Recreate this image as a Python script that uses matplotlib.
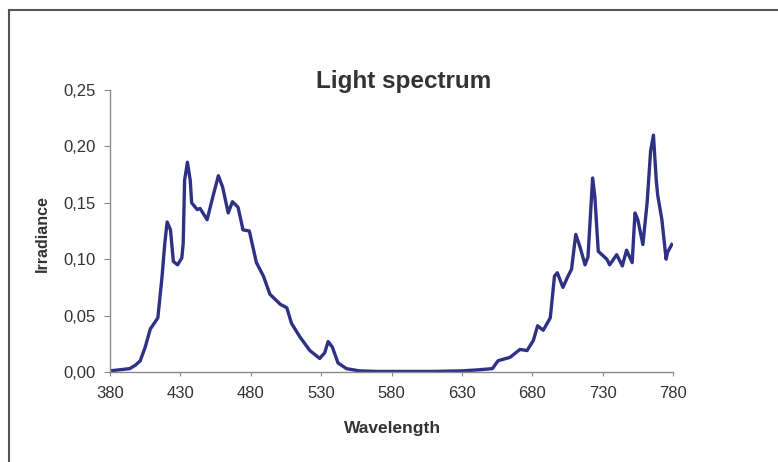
import matplotlib
matplotlib.use("Agg")
import matplotlib.pyplot as plt
from matplotlib.lines import Line2D
from matplotlib.ticker import FuncFormatter

wavelength = [380, 387, 394, 398, 401.5, 405, 408.6, 414, 417, 419, 420.6, 423, 425, 428, 431, 432, 433,
              435, 437, 438, 442, 444, 449, 453, 457, 460, 464, 467, 471, 474.5, 479, 484, 489,
              493.6, 501, 505.6, 509, 515, 522, 529, 532.5, 535, 538, 542, 548, 557, 570, 590,
              610, 630, 642.6, 651.7, 655.7, 664.2, 671.3, 676.3, 680.8, 683.8, 687.8, 692.8,
              695.8, 697.8, 701.8, 705.4, 707.9, 710.9, 713.9, 717.5, 719.6, 722.9, 724.5,
              726.9, 733, 735, 740, 744, 747, 751, 753, 755, 758.6, 761.6, 764.1, 766.1, 768.1,
              769.1, 772.1, 775.1, 776.1, 779.1]
irradiance = [0.001, 0.002, 0.003, 0.006, 0.010, 0.022, 0.038, 0.048, 0.085, 0.115, 0.133, 0.126, 0.098,
              0.095, 0.101, 0.114, 0.170, 0.186, 0.170, 0.150, 0.144, 0.145, 0.135, 0.155, 0.174,
              0.164, 0.141, 0.151, 0.146, 0.126, 0.125, 0.097, 0.085, 0.069, 0.060, 0.057, 0.043,
              0.031, 0.019, 0.012, 0.017, 0.027, 0.022, 0.008, 0.003, 0.001, 0.0005, 0.0005,
              0.0005, 0.001, 0.002, 0.003, 0.010, 0.013, 0.020, 0.019, 0.028, 0.041, 0.037,
              0.048, 0.085, 0.088, 0.075, 0.085, 0.091, 0.122, 0.111, 0.095, 0.102, 0.172,
              0.155, 0.107, 0.100, 0.095, 0.104, 0.094, 0.108, 0.097, 0.141, 0.135, 0.113,
              0.150, 0.196, 0.210, 0.170, 0.157, 0.135, 0.100, 0.106, 0.113]
x_ticks = [380, 430, 480, 530, 580, 630, 680, 730, 780]
y_ticks = [0.00, 0.05, 0.10, 0.15, 0.20, 0.25]

plt.rcParams['font.family'] = ['Liberation Sans', 'DejaVu Sans']

W, H = 778, 462
fig = plt.figure(figsize=(W / 100, H / 100), dpi=100)
ax = fig.add_axes([110 / W, 1 - 372 / H, (673 - 110) / W, (372 - 90) / H])

ax.plot(wavelength, irradiance, color='#2e3184', lw=2.4, solid_joinstyle='round')
ax.set_xlim(380, 780)
ax.set_ylim(0, 0.25)
ax.set_xticks(x_ticks)
ax.set_yticks(y_ticks)
ax.yaxis.set_major_formatter(FuncFormatter(lambda v, p: f"{v:.2f}".replace('.', ',')))
for s in ['top', 'right']:
    ax.spines[s].set_visible(False)
for s in ['left', 'bottom']:
    ax.spines[s].set_color('#8a8a8a')
    ax.spines[s].set_linewidth(1.0)
ax.tick_params(axis='both', direction='out', color='#8a8a8a', labelsize=12, labelcolor='#333333')
ax.tick_params(axis='y', length=4, pad=6.5)
ax.tick_params(axis='x', length=3, pad=7)

fig.text(404 / W, 1 - 88 / H, 'Light spectrum', fontsize=17.5, fontweight='bold', color='#333333',
         ha='center', va='baseline')
fig.text(393 / W, 1 - 433 / H, 'Wavelength', fontsize=12.5, fontweight='bold', color='#333333',
         ha='center', va='baseline')
fig.text(42 / W, 1 - 234 / H, 'Irradiance', fontsize=11.5, fontweight='bold', color='#333333',
         ha='center', va='center', rotation=90)

fig.add_artist(Line2D([9 / W, 1], [1 - 10 / H, 1 - 10 / H], transform=fig.transFigure, color='#555555', lw=1.5))
fig.add_artist(Line2D([9 / W, 9 / W], [0, 1 - 10 / H], transform=fig.transFigure, color='#555555', lw=1.5))

fig.savefig('out.png', dpi=100, facecolor='white')
